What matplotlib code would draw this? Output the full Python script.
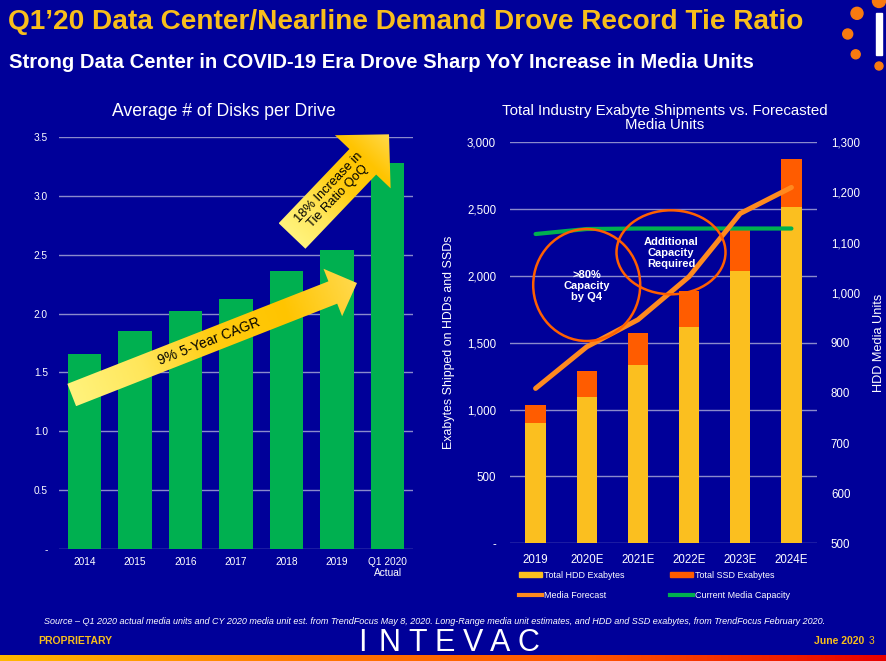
import numpy as np
import matplotlib

matplotlib.use("Agg")
import matplotlib.pyplot as plt
from matplotlib.colors import LinearSegmentedColormap
from matplotlib.patches import Polygon, Ellipse, Circle, Rectangle, Patch
from matplotlib.lines import Line2D
from matplotlib.ticker import FuncFormatter, MultipleLocator

# ---- data -------------------------------------------------------------
disk_years = ["2014", "2015", "2016", "2017", "2018", "2019", "Q1 2020\nActual"]
disks_per_drive = [1.66, 1.855, 2.025, 2.12, 2.36, 2.54, 3.28]

eb_years = ["2019", "2020E", "2021E", "2022E", "2023E", "2024E"]
hdd_exabytes = [900, 1092, 1334, 1616, 2037, 2514]
ssd_exabytes = [137, 199, 237, 272, 312, 359]
media_forecast = [809, 892, 946, 1032, 1158, 1210]
media_capacity = [1117, 1127, 1128, 1128, 1128, 1128]

# ---- style ------------------------------------------------------------
W, H = 887, 661
BG = "#000099"
GRID = "#8A8ACC"
GOLD = "#F8BE1B"
GREEN = "#00B050"
HDD = "#FBBF1F"
SSD = "#FF5C00"
FORECAST = "#FF8A1F"
RING = "#FF5F00"
FONT = ["Liberation Sans", "DejaVu Sans"]

plt.rcParams["font.family"] = FONT
plt.rcParams["text.color"] = "white"

fig = plt.figure(figsize=(W / 100, H / 100), dpi=100, facecolor=BG)


def frac(x0, y0, x1, y1):
    # pixel box (top-left origin) -> figure fraction rect
    return [x0 / W, 1 - y1 / H, (x1 - x0) / W, (y1 - y0) / H]


def style_axes(ax):
    ax.set_facecolor("none")
    for s in ax.spines.values():
        s.set_visible(False)
    ax.grid(True, axis="y", color=GRID, lw=1.0)
    ax.set_axisbelow(True)
    ax.tick_params(length=0, colors="white")


# ---- left chart: disks per drive --------------------------------------
ax1 = fig.add_axes(frac(59, 137, 413, 549))
style_axes(ax1)
x1 = np.arange(len(disk_years))
ax1.bar(x1, disks_per_drive, width=0.66, color=GREEN, zorder=2)
ax1.set_xlim(-0.5, len(disk_years) - 0.5)
ax1.set_ylim(0, 3.5)
ax1.yaxis.set_major_locator(MultipleLocator(0.5))
ax1.yaxis.set_major_formatter(FuncFormatter(lambda v, _: "-" if v == 0 else f"{v:.1f}"))
ax1.set_xticks(x1, labels=disk_years)
ax1.tick_params(axis="y", labelsize=7.3, pad=8)
ax1.tick_params(axis="x", labelsize=7.3, pad=6)
for lbl in ax1.get_xticklabels():
    lbl.set_linespacing(1.1)
    lbl.set_verticalalignment("top")

# ---- right chart: exabytes vs media units -----------------------------
ax2 = fig.add_axes(frac(510, 142.3, 817, 543.3))
style_axes(ax2)
x2 = np.arange(len(eb_years))
ax2.bar(x2, hdd_exabytes, width=0.4, color=HDD, zorder=2)
ax2.bar(x2, ssd_exabytes, width=0.4, bottom=hdd_exabytes, color=SSD, zorder=2)
ax2.set_xlim(-0.5, len(eb_years) - 0.5)
ax2.set_ylim(0, 3000)
ax2.yaxis.set_major_locator(MultipleLocator(500))
ax2.yaxis.set_major_formatter(FuncFormatter(lambda v, _: "-" if v == 0 else f"{v:,.0f}"))
ax2.set_xticks(x2, labels=eb_years)
ax2.tick_params(axis="y", labelsize=8.3, pad=10)
ax2.tick_params(axis="x", labelsize=8.3, pad=8)
ax2.set_ylabel("Exabytes Shipped on HDDs and SSDs", fontsize=8.9, color="white")
ax2.yaxis.set_label_coords(-0.179, 0.5)

ax3 = ax2.twinx()
ax3.set_ylim(500, 1300)
ax3.yaxis.set_major_locator(MultipleLocator(100))
ax3.yaxis.set_major_formatter(FuncFormatter(lambda v, _: f"{v:,.0f}"))
for s in ax3.spines.values():
    s.set_visible(False)
ax3.tick_params(length=0, colors="white", labelsize=8.3, pad=10)
ax3.plot(x2, media_capacity, color=GREEN, lw=3.0, solid_capstyle="round", zorder=3)
ax3.plot(x2, media_forecast, color=FORECAST, lw=3.6, solid_capstyle="round", zorder=4)
ax3.set_ylabel("HDD Media Units", fontsize=9.2, color="white")
ax3.yaxis.set_label_coords(1.182, 0.5)

handles = [
    Patch(color=HDD, label="Total HDD Exabytes"),
    Line2D([], [], color=FORECAST, lw=3, label="Media Forecast"),
    Patch(color=SSD, label="Total SSD Exabytes"),
    Line2D([], [], color=GREEN, lw=3, label="Current Media Capacity"),
]
leg = fig.legend(
    handles=handles, ncol=2, loc="upper left", bbox_to_anchor=(515 / W, 1 - 567 / H),
    frameon=False, fontsize=6.5, labelcolor="white", handlelength=2.6, handleheight=0.45,
    handletextpad=0.2, columnspacing=5.0, labelspacing=1.25, borderaxespad=0,
)

# ---- overlay in pixel coordinates (annotations, titles, footer) -------
ov = fig.add_axes([0, 0, 1, 1], zorder=10)
ov.axis("off")
ov.set_facecolor("none")

arrow_cmap = LinearSegmentedColormap.from_list(
    "arrow", ["#FFF37C", "#FFE65A", "#FFCC10", "#FFC400", "#FFD94C"])


def gradient_arrow(tail, tip, shaft_w, head_w, head_l):
    t = np.asarray(tail, float)
    p = np.asarray(tip, float)
    d = p - t
    length = np.hypot(*d)
    u = d / length
    n = np.array([-u[1], u[0]])
    base = p - u * head_l
    pts = [t + n * shaft_w / 2, base + n * shaft_w / 2, base + n * head_w / 2, p,
           base - n * head_w / 2, base - n * shaft_w / 2, t - n * shaft_w / 2]
    poly = Polygon(pts, closed=True, facecolor="none", edgecolor="none")
    ov.add_patch(poly)
    xs = np.array(pts)[:, 0]
    ys = np.array(pts)[:, 1]
    gx, gy = np.meshgrid(np.linspace(xs.min(), xs.max(), 200), np.linspace(ys.min(), ys.max(), 200))
    s = ((gx - t[0]) * u[0] + (gy - t[1]) * u[1]) / length
    im = ov.imshow(np.clip(s, 0, 1), cmap=arrow_cmap, origin="lower",
                   extent=(xs.min(), xs.max(), ys.min(), ys.max()), aspect="auto", zorder=3)
    im.set_clip_path(poly)


gradient_arrow((71.7, 395), (357, 283), 24, 51, 26)
gradient_arrow((292, 236), (389, 134.3), 37, 77, 38)
ov.text(209, 341, "9% 5-Year CAGR", rotation=21.4, fontsize=10, color="black",
        ha="center", va="center", rotation_mode="anchor", zorder=5)
ov.text(333, 192, "18% Increase in\nTie Ratio QoQ", rotation=46.3, fontsize=9.3, color="black",
        ha="center", va="center", rotation_mode="anchor", linespacing=1.05, zorder=5)

ov.add_patch(Ellipse((586.7, 285), 107, 112, fill=False, edgecolor=RING, lw=1.8, zorder=4))
ov.add_patch(Ellipse((671, 252.3), 109, 84, fill=False, edgecolor=RING, lw=1.8, zorder=4))
ov.text(586.7, 286, ">80%\nCapacity\nby Q4", fontsize=8, fontweight="bold", ha="center",
        va="center", linespacing=1.1, zorder=5)
ov.text(671, 253, "Additional\nCapacity\nRequired", fontsize=8, fontweight="bold",
        ha="center", va="center", linespacing=1.1, zorder=5)

# titles
ov.text(8, 22, "Q1\u201920 Data Center/Nearline Demand Drove Record Tie Ratio", fontsize=20.2,
        fontweight="bold", color=GOLD, ha="left", va="center")
ov.text(9, 62, "Strong Data Center in COVID-19 Era Drove Sharp YoY Increase in Media Units",
        fontsize=14.6, fontweight="bold", color="white", ha="left", va="center")
ov.text(224, 111, "Average # of Disks per Drive", fontsize=12.7, ha="center", va="center")
ov.text(665, 118, "Total Industry Exabyte Shipments vs. Forecasted\nMedia Units", fontsize=10.8,
        ha="center", va="center", linespacing=1.0)

# top-right decoration
for cx, cy, r in [(879, 1, 6.5), (857, 13.3, 6), (847.7, 34, 5), (855.7, 54.3, 4.5), (879, 66, 4)]:
    ov.add_patch(Circle((cx, cy), r, color="#F97A10", zorder=2))
ov.add_patch(Rectangle((876.3, 13.3), 5.7, 41.7, color="white", zorder=2))

# footer
ov.text(435, 622, "Source \u2013 Q1 2020 actual media units and CY 2020 media unit est. from TrendFocus "
        "May 8, 2020. Long-Range media unit estimates, and HDD and SSD exabytes, from TrendFocus "
        "February 2020.", fontsize=6.45, style="italic", ha="center", va="center")
ov.text(38, 641, "PROPRIETARY", fontsize=7.5, fontweight="bold", color=GOLD, ha="left", va="center")
ov.text(864, 641, "June 2020", fontsize=7.5, fontweight="bold", color=GOLD, ha="right", va="center")
ov.text(869, 641, "3", fontsize=7.5, color=GOLD, ha="left", va="center")
for i, ch in enumerate("INTEVAC"):
    ov.text(362 + i * 27.7, 643, ch, fontsize=22, color="white", ha="center", va="center")

band = np.linspace(0, 1, 256).reshape(1, -1)
band_cmap = LinearSegmentedColormap.from_list("band", ["#FFB800", "#FF7A00", "#FF5500", "#E80000"])
ov.imshow(band, cmap=band_cmap, extent=(0, W, H, 655.5), aspect="auto", zorder=1)
ov.set_xlim(0, W)
ov.set_ylim(H, 0)

fig.savefig("out.png", dpi=100, facecolor=BG)
